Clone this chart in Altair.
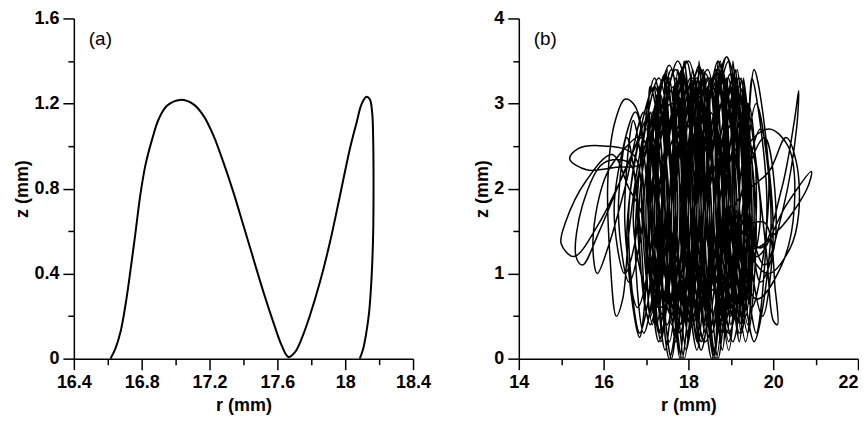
import altair as alt
import pandas as pd

# ---- panel (a): r, z (mm)
a_r = [16.616, 16.645, 16.675, 16.704, 16.733, 16.763, 16.792, 16.822, 16.861, 16.900,
       16.949, 17.027, 17.106, 17.165, 17.224, 17.282, 17.341, 17.400, 17.459, 17.518,
       17.576, 17.625, 17.665, 17.704, 17.743, 17.792, 17.851, 17.910, 17.969, 18.027,
       18.067, 18.096, 18.125, 18.145, 18.159, 18.165, 18.167, 18.165, 18.155, 18.141,
       18.125, 18.106, 18.086]
a_z = [0.000, 0.047, 0.125, 0.250, 0.410, 0.590, 0.770, 0.910, 1.030, 1.126,
       1.189, 1.217, 1.196, 1.142, 1.048, 0.923, 0.782, 0.626, 0.469, 0.313,
       0.172, 0.063, 0.008, 0.031, 0.094, 0.203, 0.360, 0.547, 0.766, 0.985,
       1.110, 1.196, 1.232, 1.220, 1.157, 1.030, 0.813, 0.594, 0.375, 0.219,
       0.125, 0.047, 0.000]

# ---- panel (b): trajectory turning points (r, z) in mm.
b_pts = [
    # sweep 1 (core, rightwards): top, right side, bottom, left side of each loop
    (17.2, 3.2), (17.45, 1.8), (17.25, 0.4), (17.0, 1.8),
    (17.4, 3.3), (17.6, 1.7), (17.35, 0.2), (17.15, 1.9),
    (17.6, 3.4), (17.85, 1.8), (17.6, 0.0), (17.35, 1.6),
    (17.75, 3.1), (18.05, 1.9), (17.85, 0.5), (17.55, 1.7),
    (17.95, 3.5), (18.25, 1.8), (18.0, 0.3), (17.7, 1.9),
    (18.1, 3.3), (18.4, 1.6), (18.2, 0.1), (17.9, 1.8),
    (18.3, 3.4), (18.6, 1.8), (18.4, 0.4), (18.1, 1.7),
    (18.5, 3.2), (18.75, 1.7), (18.6, 0.0), (18.3, 1.9),
    (18.7, 3.5), (19.0, 1.9), (18.8, 0.3), (18.5, 1.8),
    (18.9, 3.55), (19.2, 1.8), (19.0, 0.5), (18.7, 1.7),
    (19.05, 3.3), (19.4, 1.7), (19.2, 0.3), (18.9, 1.9),
    (19.2, 3.1), (19.5, 1.6), (19.3, 0.6), (19.0, 1.8),
    # right lobe
    (19.6, 1.2), (20.3, 1.8), (20.9, 2.2), (20.8, 2.0), (20.1, 1.5), (19.5, 1.3),
    # sweep 2 (leftwards)
    (19.3, 3.3), (19.55, 1.8), (19.35, 0.2), (19.05, 1.7),
    (19.1, 3.4), (19.35, 1.9), (19.15, 0.4), (18.85, 1.8),
    (18.9, 3.2), (19.15, 1.7), (18.95, 0.1), (18.65, 1.8),
    (18.7, 3.4), (18.95, 1.8), (18.7, 0.0), (18.45, 1.7),
    (18.5, 3.3), (18.8, 1.9), (18.55, 0.3), (18.25, 1.8),
    (18.3, 3.1), (18.55, 1.6), (18.35, 0.2), (18.05, 1.7),
    (18.1, 3.4), (18.35, 1.8), (18.1, 0.5), (17.85, 1.9),
    (17.9, 3.5), (18.15, 1.7), (17.9, 0.0), (17.65, 1.8),
    (17.7, 3.3), (17.95, 1.9), (17.7, 0.2), (17.45, 1.7),
    (17.5, 3.2), (17.75, 1.8), (17.5, 0.4), (17.25, 1.8),
    (17.3, 3.0), (17.55, 1.7), (17.3, 0.3), (17.05, 1.9),
    (17.15, 2.9), (17.4, 1.6), (17.1, 0.5), (16.9, 1.7),
    # left lobe
    (16.6, 2.0), (16.2, 2.4), (15.6, 2.1), (15.1, 1.6), (15.0, 1.35), (15.3, 1.2), (15.9, 1.6), (16.5, 2.2),
    # left fringe loops
    (16.9, 2.6), (17.15, 1.5), (16.8, 0.6), (16.5, 1.6),
    (16.7, 2.8), (16.95, 1.8), (16.6, 0.9), (16.35, 1.7),
    (16.55, 2.6), (16.8, 1.6), (16.5, 1.0), (16.25, 1.8),
    (16.75, 2.9), (17.05, 1.7), (16.85, 0.25), (16.55, 1.5),
    # sweep 3 (rightwards)
    (17.0, 2.8), (17.3, 1.5), (16.95, 0.3), (16.75, 1.5),
    (17.2, 3.3), (17.5, 1.7), (17.25, 0.6), (16.95, 1.8),
    (17.45, 3.35), (17.7, 1.8), (17.45, 0.1), (17.2, 1.9),
    (17.65, 3.2), (17.95, 1.6), (17.7, 0.3), (17.4, 1.7),
    (17.85, 3.4), (18.1, 1.9), (17.85, 0.0), (17.6, 1.8),
    (18.05, 3.3), (18.35, 1.7), (18.1, 0.4), (17.8, 1.7),
    (18.25, 3.45), (18.5, 1.8), (18.3, 0.2), (18.0, 1.8),
    (18.45, 3.3), (18.7, 1.9), (18.5, 0.5), (18.2, 1.7),
    (18.65, 3.4), (18.9, 1.7), (18.65, 0.0), (18.4, 1.8),
    (18.85, 3.3), (19.1, 1.8), (18.9, 0.3), (18.6, 1.9),
    (19.05, 3.2), (19.3, 1.6), (19.1, 0.5), (18.8, 1.7),
    (19.25, 3.0), (19.5, 1.7), (19.3, 0.7), (19.0, 1.8),
    # right lobe (thin, tall)
    (19.7, 1.3), (20.2, 2.0), (20.5, 2.8), (20.6, 3.15), (20.55, 2.7), (20.25, 1.8), (19.8, 1.1), (19.5, 1.5),
    # right fringe loops
    (19.5, 3.3), (19.85, 1.9), (19.6, 0.3), (19.3, 1.7),
    (19.6, 3.0), (19.95, 1.6), (19.55, 0.2), (19.25, 1.6),
    (19.7, 2.7), (20.0, 1.5), (19.75, 0.5), (19.4, 1.5),
    (19.55, 3.4), (19.9, 2.0), (19.5, 0.6), (19.2, 1.8),
    (19.8, 2.6), (20.05, 1.4), (19.7, 0.9), (19.45, 1.7),
    # sweep 4 (leftwards)
    (19.35, 2.9), (19.6, 1.6), (19.4, 0.3), (19.1, 1.7),
    (19.15, 3.4), (19.4, 1.8), (19.2, 0.6), (18.9, 1.9),
    (18.95, 3.3), (19.2, 1.7), (18.95, 0.2), (18.7, 1.8),
    (18.75, 3.5), (19.0, 1.9), (18.8, 0.4), (18.5, 1.7),
    (18.55, 3.2), (18.8, 1.8), (18.6, 0.0), (18.3, 1.8),
    (18.35, 3.4), (18.6, 1.7), (18.4, 0.3), (18.1, 1.9),
    (18.15, 3.3), (18.4, 1.9), (18.2, 0.6), (17.9, 1.7),
    (17.95, 3.2), (18.2, 1.8), (17.95, 0.1), (17.7, 1.8),
    (17.75, 3.4), (18.0, 1.7), (17.8, 0.4), (17.5, 1.9),
    (17.55, 3.3), (17.8, 1.8), (17.55, 0.2), (17.3, 1.7),
    (17.35, 3.1), (17.6, 1.9), (17.4, 0.5), (17.1, 1.8),
    (17.2, 2.7), (17.45, 1.6), (17.2, 0.6), (16.95, 1.6),
    # small horizontal loop, upper left
    (16.7, 2.4), (16.0, 2.5), (15.4, 2.47), (15.2, 2.35), (15.6, 2.22), (16.3, 2.25), (16.9, 2.3),
    # sweep 5 (rightwards, wider loops)
    (17.1, 3.2), (17.45, 1.8), (17.1, 0.4), (16.8, 1.9),
    (17.3, 3.3), (17.65, 1.7), (17.35, 0.3), (17.0, 1.8),
    (17.55, 3.45), (17.9, 1.9), (17.6, 0.5), (17.2, 1.7),
    (17.75, 3.5), (18.2, 1.8), (17.8, 0.4), (17.3, 1.8),
    (18.0, 3.5), (18.35, 1.7), (18.05, 0.4), (17.7, 1.9),
    (18.25, 3.4), (18.6, 1.8), (18.3, 0.1), (17.9, 1.7),
    (18.4, 3.35), (18.85, 1.7), (18.4, 0.2), (17.95, 1.8),
    (18.5, 3.3), (18.85, 1.9), (18.55, 0.3), (18.15, 1.8),
    (18.75, 3.45), (19.1, 1.7), (18.8, 0.5), (18.4, 1.8),
    (18.9, 3.55), (19.35, 1.9), (18.95, 0.3), (18.45, 1.7),
    (19.0, 3.35), (19.35, 1.8), (19.05, 0.2), (18.65, 1.9),
    (19.2, 3.2), (19.5, 1.7), (19.25, 0.4), (18.9, 1.8),
    # right: big ellipse, then narrow hanging loop
    (19.6, 0.7), (20.2, 1.1), (20.5, 1.8), (20.35, 2.5), (19.9, 2.7), (19.4, 2.5), (19.3, 1.6),
    (19.8, 1.6), (20.05, 0.8), (20.1, 0.4), (20.0, 0.45), (19.85, 1.2), (19.6, 2.3),
    # sweep 6 (leftwards, narrow loops)
    (19.4, 3.0), (19.55, 1.7), (19.35, 0.5), (19.2, 1.8),
    (19.25, 3.3), (19.4, 1.8), (19.2, 0.2), (19.05, 1.7),
    (19.05, 3.5), (19.2, 1.9), (19.0, 0.4), (18.85, 1.8),
    (18.85, 3.3), (19.0, 1.7), (18.8, 0.1), (18.65, 1.8),
    (18.65, 3.4), (18.8, 1.8), (18.6, 0.0), (18.45, 1.7),
    (18.45, 3.2), (18.6, 1.9), (18.4, 0.3), (18.25, 1.8),
    (18.25, 3.5), (18.4, 1.7), (18.2, 0.5), (18.05, 1.9),
    (18.05, 3.3), (18.2, 1.8), (18.0, 0.2), (17.85, 1.7),
    (17.85, 3.4), (18.0, 1.9), (17.8, 0.0), (17.65, 1.8),
    (17.65, 3.2), (17.8, 1.7), (17.6, 0.4), (17.45, 1.8),
    (17.45, 3.35), (17.6, 1.8), (17.4, 0.3), (17.25, 1.7),
    (17.25, 3.1), (17.4, 1.9), (17.2, 0.5), (17.05, 1.8),
    (17.05, 2.8), (17.2, 1.7), (17.0, 0.6), (16.85, 1.6),
    # left hanging loops
    (16.6, 2.3), (16.0, 2.3), (15.5, 1.8), (15.35, 1.2), (15.5, 1.1), (15.9, 1.5), (16.4, 2.1),
    (16.8, 2.6), (16.1, 2.2), (15.75, 1.4), (15.85, 1.0), (16.1, 1.3), (16.5, 2.0),
    # sweep 7 (rightwards, tilted loops)
    (16.95, 2.9), (17.25, 1.6), (16.85, 0.3), (16.6, 1.8),
    (17.2, 3.2), (17.5, 1.8), (17.05, 0.5), (16.85, 1.9),
    (17.45, 3.3), (17.7, 1.7), (17.3, 0.2), (17.1, 1.8),
    (17.7, 3.4), (17.95, 1.9), (17.55, 0.0), (17.35, 1.7),
    (17.95, 3.5), (18.2, 1.8), (17.8, 0.3), (17.6, 1.8),
    (18.2, 3.3), (18.45, 1.7), (18.05, 0.4), (17.85, 1.9),
    (18.45, 3.4), (18.7, 1.9), (18.3, 0.1), (18.1, 1.8),
    (18.7, 3.3), (18.95, 1.8), (18.55, 0.0), (18.35, 1.7),
    (18.95, 3.5), (19.2, 1.7), (18.8, 0.3), (18.6, 1.8),
    (19.2, 3.3), (19.45, 1.8), (19.05, 0.5), (18.85, 1.9),
    (19.4, 3.0), (19.6, 1.7), (19.3, 0.6), (19.1, 1.8),
    # right loop
    (19.9, 2.2), (20.3, 2.6), (20.55, 2.3), (20.6, 1.7), (20.4, 1.3), (19.9, 1.0), (19.5, 1.2),
    # sweep 8 (leftwards, tilted the other way)
    (19.3, 3.2), (19.5, 1.8), (19.4, 0.4), (19.1, 1.7),
    (19.1, 3.4), (19.3, 1.9), (19.2, 0.2), (18.9, 1.8),
    (18.9, 3.3), (19.1, 1.7), (19.0, 0.5), (18.7, 1.9),
    (18.7, 3.5), (18.9, 1.8), (18.8, 0.1), (18.5, 1.7),
    (18.5, 3.3), (18.7, 1.9), (18.6, 0.0), (18.3, 1.8),
    (18.3, 3.4), (18.5, 1.7), (18.4, 0.4), (18.1, 1.8),
    (18.1, 3.2), (18.3, 1.8), (18.2, 0.2), (17.9, 1.9),
    (17.9, 3.5), (18.1, 1.9), (18.0, 0.3), (17.7, 1.7),
    (17.7, 3.3), (17.9, 1.7), (17.8, 0.0), (17.5, 1.8),
    (17.5, 3.4), (17.7, 1.8), (17.6, 0.5), (17.3, 1.9),
    (17.3, 3.2), (17.5, 1.9), (17.4, 0.3), (17.1, 1.7),
    (17.1, 2.9), (17.3, 1.6), (17.15, 0.4), (16.9, 1.7),
    # upper-left arch and lower-left hanging loop
    (16.9, 2.7), (16.7, 3.0), (16.5, 3.05), (16.25, 2.75), (16.1, 2.1), (16.15, 1.2),
    (16.3, 0.5), (16.45, 0.7), (16.6, 1.5), (16.85, 2.4),
    # sweep 9 (rightwards, lower and wider loops)
    (17.0, 2.7), (17.4, 1.6), (17.05, 0.8), (16.7, 1.7),
    (17.3, 2.9), (17.7, 1.8), (17.35, 0.6), (16.95, 1.9),
    (17.6, 3.0), (18.0, 1.9), (17.65, 0.7), (17.25, 1.8),
    (17.9, 2.8), (18.3, 1.7), (17.95, 0.9), (17.55, 1.8),
    (18.2, 3.1), (18.6, 1.8), (18.25, 0.6), (17.85, 1.9),
    (18.5, 2.9), (18.9, 1.9), (18.55, 0.8), (18.15, 1.7),
    (18.8, 3.0), (19.2, 1.8), (18.85, 0.7), (18.45, 1.8),
    (19.1, 2.8), (19.5, 1.7), (19.15, 0.9), (18.75, 1.9),
    (19.35, 2.6), (19.7, 1.7), (19.4, 1.0), (19.05, 1.8),
    (19.2, 3.1), (19.45, 1.8), (19.25, 0.3), (19.0, 1.8),
    (18.9, 3.3), (19.1, 2.0),
]
b_r = [p[0] for p in b_pts]
b_z = [p[1] for p in b_pts]

a_xticks = [16.4, 16.6, 16.8, 17.0, 17.2, 17.4, 17.6, 17.8, 18.0, 18.2, 18.4]
a_yticks = [0, 0.2, 0.4, 0.6, 0.8, 1.0, 1.2, 1.4, 1.6]
b_xticks = [14, 15, 16, 17, 18, 19, 20, 21, 22]
b_yticks = [0, 0.5, 1, 1.5, 2, 2.5, 3, 3.5, 4]

df_a = pd.DataFrame({"r": a_r, "z": a_z, "i": list(range(len(a_r)))})
df_b = pd.DataFrame({"r": b_r, "z": b_z, "i": list(range(len(b_r)))})

FONT = "Liberation Sans"
W, H = 340, 341


def make_axis(values, major, title, lab_pad, title_pad, last=None):
    kw = {}
    if last is not None:
        kw["labelAlign"] = {"condition": {"test": f"datum.value == {last}", "value": "right"},
                            "value": "center"}
    return alt.Axis(
        values=values,
        title=title,
        grid=False,
        domainColor="black",
        domainWidth=1.5,
        tickColor="black",
        tickWidth=1.5,
        tickSize={"condition": {"test": f"!({major})", "value": 6}, "value": 11},
        labelExpr=f"({major}) ? toString(round(datum.value*10)/10) : ''",
        labelFont=FONT,
        labelFontWeight="bold",
        labelFontSize=18,
        labelColor="black",
        labelPadding=lab_pad,
        labelFlush=False,
        labelOverlap=False,
        titleFont=FONT,
        titleFontWeight="bold",
        titleFontSize=18,
        titleColor="black",
        titlePadding=title_pad,
        **kw,
    )


def panel(df, xdom, ydom, xt, yt, xmajor, ymajor, sw, label, last=None):
    line = alt.Chart(df).mark_line(
        color="black", strokeWidth=sw, interpolate="catmull-rom", clip=True
    ).encode(
        x=alt.X("r:Q", scale=alt.Scale(domain=xdom, nice=False, zero=False),
                axis=make_axis(xt, xmajor, "r (mm)", 4, 5, last)),
        y=alt.Y("z:Q", scale=alt.Scale(domain=ydom, nice=False, zero=False),
                axis=make_axis(yt, ymajor, "z (mm)", 4, 2)),
        order="i:Q",
    )
    txt = alt.Chart(pd.DataFrame({"t": [label]})).mark_text(
        align="left", baseline="middle", font=FONT, fontSize=19, color="black"
    ).encode(text="t:N", x=alt.value(15), y=alt.value(21))
    return alt.layer(line, txt).properties(width=W, height=H)


pa = panel(df_a, [16.4, 18.4], [0, 1.6], a_xticks, a_yticks,
           "round(datum.value*10) % 4 == 0", "round(datum.value*10) % 4 == 0", 2, "(a)")
pb = panel(df_b, [14, 22], [0, 4], b_xticks, b_yticks,
           "round(datum.value) % 2 == 0", "round(datum.value*10) % 10 == 0", 1.5, "(b)",
           last=22)

chart = alt.hconcat(pa, pb, spacing=42).properties(
    padding={"left": 5, "top": 1, "right": 0, "bottom": 0}
).configure_view(stroke=None)

chart.save("out.html", embed_options={"renderer": "svg", "actions": False})
